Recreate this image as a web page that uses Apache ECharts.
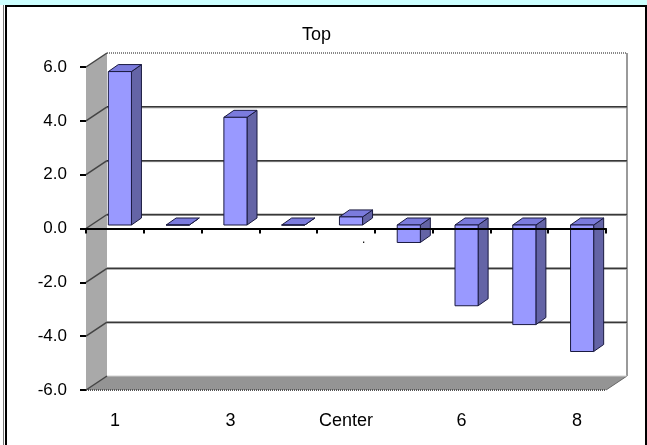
<!DOCTYPE html>
<html>
<head>
<meta charset="utf-8">
<script src="https://cdn.jsdelivr.net/npm/echarts@6/dist/echarts.min.js"></script>
<style>
html,body{margin:0;padding:0;background:#fff;}
#c{width:647px;height:445px;}
</style>
</head>
<body>
<div id="c"></div>
<script>
// ---- data ----
var categories = ['1', '2', '3', '4', 'Center', '5', '6', '7', '8'];
var values = [5.7, 0, 4.0, 0, 0.3, -0.65, -3.0, -3.7, -4.7];
var yTicks = [-6, -4, -2, 0, 2, 4, 6];
var titleText = 'Top';

// ---- styling constants ----
var DX = 21, DY = -14;          // wall depth offset (px)
var FONT = '"Liberation Sans", Arial, sans-serif';

var chart = echarts.init(document.getElementById('c'));

function wallsRender(params, api) {
  var cs = params.coordSys;
  var x0 = cs.x, x1 = cs.x + cs.width, y0 = cs.y, y1 = cs.y + cs.height;
  return {
    type: 'group',
    children: [
      { type: 'polygon', shape: { points: [[x0 + DX, y0 + DY], [x1 + DX, y0 + DY], [x1 + DX, y1 + DY], [x0 + DX, y1 + DY]] },
        style: { fill: '#ffffff' } },
      { type: 'polygon', shape: { points: [[x0, y0], [x0 + DX, y0 + DY], [x0 + DX, y1 + DY], [x0, y1]] },
        style: { fill: '#a9a9a9' } },
      { type: 'polygon', shape: { points: [[x0, y1], [x1, y1], [x1 + DX, y1 + DY], [x0 + DX, y1 + DY]] },
        style: { fill: '#949494' } },
      { type: 'line', shape: { x1: x1 + DX, y1: y0 + DY, x2: x1 + DX, y2: y1 + DY },
        style: { stroke: '#9a9a9a', lineWidth: 2 } },
      { type: 'line', shape: { x1: x0 + DX, y1: y0 + DY, x2: x1 + DX, y2: y0 + DY },
        style: { stroke: '#888', lineWidth: 2, lineDash: [1, 1] } },
      { type: 'line', shape: { x1: x0, y1: y1, x2: x1, y2: y1 },
        style: { stroke: '#555', lineWidth: 2, lineDash: [1, 1] } },
      { type: 'line', shape: { x1: x1, y1: y1, x2: x1 + DX, y2: y1 + DY },
        style: { stroke: '#666', lineWidth: 1 } },
      { type: 'line', shape: { x1: x0 + DX, y1: y1 + DY, x2: x1 + DX, y2: y1 + DY },
        style: { stroke: '#d0d0d0', lineWidth: 1 } }
    ]
  };
}

function gridRender(params, api) {
  var cs = params.coordSys;
  var t = api.value(1);
  var y = api.coord([0, t])[1];
  var x0 = cs.x, x1 = cs.x + cs.width;
  var children = [
    { type: 'line', shape: { x1: x0, y1: y, x2: x0 + DX, y2: y + DY },
      style: { stroke: '#444', lineWidth: 1.5 } }
  ];
  if (t !== 6 && t !== -6) {
    children.push({ type: 'line', shape: { x1: x0 + DX, y1: y + DY + 1, x2: x1 + DX, y2: y + DY + 1 },
      style: { stroke: '#a0a0a0', lineWidth: 1 } });
    children.push({ type: 'line', shape: { x1: x0 + DX, y1: y + DY, x2: x1 + DX, y2: y + DY },
      style: { stroke: '#383838', lineWidth: 1.5 } });
  }
  return { type: 'group', children: children };
}

function barRender(params, api) {
  var i = api.value(0), v = api.value(1);
  var p0 = api.coord([i, 0]);
  var p1 = api.coord([i, v]);
  var w = api.size([1, 0])[0];
  var bw = w * 0.40;
  var fx = 5, fy = -3.5, dx = 10, dy = -7;
  var cx = p0[0] + fx;
  var xl = cx - bw / 2, xr = cx + bw / 2;
  var yT = Math.min(p0[1], p1[1]) + fy, yB = Math.max(p0[1], p1[1]) + fy;
  var edge = '#1a1a40';
  return {
    type: 'group',
    children: [
      { type: 'polygon', shape: { points: [[xr, yT], [xr + dx, yT + dy], [xr + dx, yB + dy], [xr, yB]] },
        style: { fill: '#6464a6', stroke: edge, lineWidth: 1 } },
      { type: 'polygon', shape: { points: [[xl, yT], [xr, yT], [xr + dx, yT + dy], [xl + dx, yT + dy]] },
        style: { fill: '#7b7bdd', stroke: edge, lineWidth: 1 } },
      { type: 'rect', shape: { x: xl, y: yT, width: bw, height: Math.max(yB - yT, 0.01) },
        style: { fill: '#9999ff', stroke: edge, lineWidth: 1 } }
    ]
  };
}

var option = {
  animation: false,
  backgroundColor: '#ffffff',
  title: {
    text: titleText,
    left: 302, top: 26, padding: 0,
    textStyle: { fontFamily: FONT, fontSize: 18, fontWeight: 'normal', color: '#000' }
  },
  grid: { left: 86, right: 41, top: 67, bottom: 55, containLabel: false },
  xAxis: [
    {
      type: 'category', data: categories, position: 'bottom', z: 10,
      axisLine: { onZero: true, lineStyle: { color: '#000', width: 2 } },
      axisTick: { show: true, length: 5, lineStyle: { color: '#000', width: 2 } },
      axisLabel: { show: false },
      splitLine: { show: false }
    },
    {
      type: 'category', data: categories, position: 'bottom',
      axisLine: { show: false, onZero: false },
      axisTick: { show: false },
      axisLabel: { show: true, interval: 1, margin: 22, color: '#000', fontFamily: FONT, fontSize: 18 },
      splitLine: { show: false }
    }
  ],
  yAxis: {
    type: 'value', min: -6, max: 6, interval: 2,
    axisLine: { show: false },
    axisTick: { show: true, length: 6, lineStyle: { color: '#000', width: 2 } },
    axisLabel: { margin: 19, color: '#000', fontFamily: FONT, fontSize: 17,
      formatter: function (v) { return v.toFixed(1); } },
    splitLine: { show: false }
  },
  series: [
    { type: 'custom', name: 'walls', renderItem: wallsRender, data: [[0, 0]], z: 1, clip: false, silent: true },
    { type: 'custom', name: 'grid', renderItem: gridRender,
      data: yTicks.map(function (t) { return [0, t]; }), encode: { x: 0, y: 1 }, z: 2, clip: false, silent: true },
    { type: 'custom', name: 'values', renderItem: barRender,
      data: values.map(function (v, i) { return [i, v]; }), encode: { x: 0, y: 1 }, z: 3, clip: false }
  ],
  graphic: [
    { type: 'rect', left: 0, top: 0, shape: { width: 647, height: 5 }, style: { fill: '#ccffff' }, z: 100 },
    { type: 'line', shape: { x1: 3.5, y1: 5, x2: 3.5, y2: 445 }, style: { stroke: '#777', lineWidth: 1 }, z: 100 },
    { type: 'rect', shape: { x: 6, y: 6, width: 640, height: 460 }, style: { fill: 'none', stroke: '#000', lineWidth: 2 }, z: 100 },
    { type: 'text', left: 362, top: 234, style: { text: '.', fill: '#000', font: '12px ' + FONT }, z: 100 }
  ]
};
chart.setOption(option);
</script>
</body>
</html>
